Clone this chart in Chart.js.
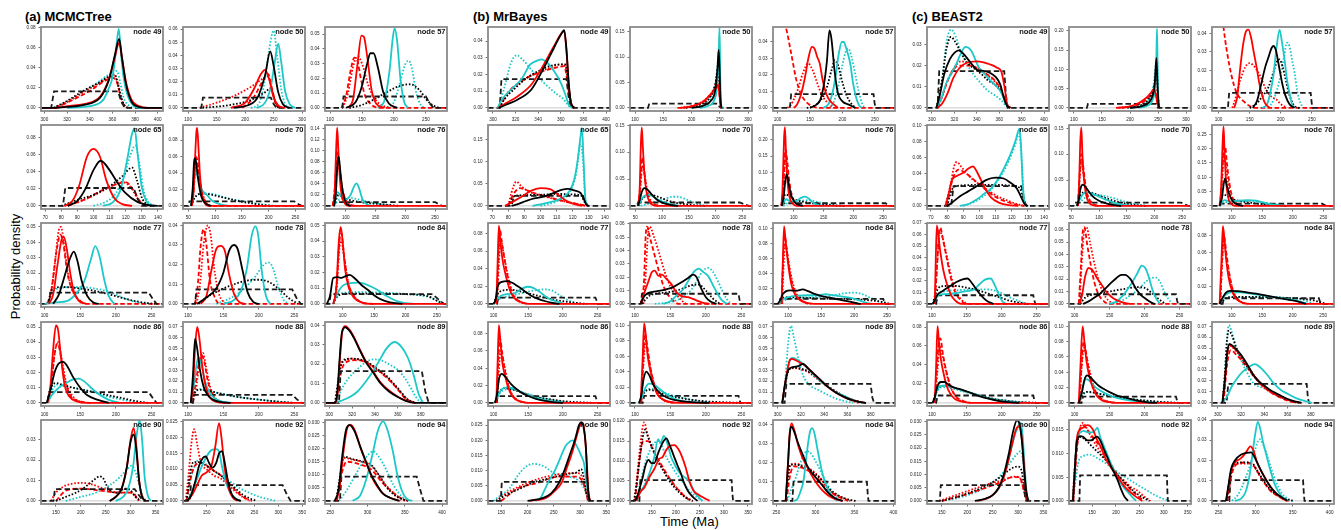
<!DOCTYPE html>
<html><head><meta charset="utf-8">
<script src="https://cdn.jsdelivr.net/npm/chart.js@4.4.1/dist/chart.umd.min.js"></script>
<style>
html,body{margin:0;padding:0;background:#fff;}
body{width:1341px;height:530px;position:relative;overflow:hidden;font-family:"Liberation Sans",Arial,sans-serif;}
canvas{position:absolute;}
.t{position:absolute;font-weight:bold;font-size:13px;line-height:13px;white-space:nowrap;color:#000;}
.lab{position:absolute;font-size:13px;line-height:13px;white-space:nowrap;color:#000;}
</style></head><body>
<div class="t" style="left:25px;top:9.5px">(a) MCMCTree</div>
<div class="t" style="left:473px;top:9.5px">(b) MrBayes</div>
<div class="t" style="left:912px;top:9.5px">(c) BEAST2</div>
<div class="lab" style="left:-45px;top:259.5px;width:120px;text-align:center;transform:rotate(-90deg);">Probability density</div>
<div class="lab" style="left:660px;top:514.5px">Time (Ma)</div>
<script>
// ---------- data ----------
const NODES = [49,50,57,65,70,76,77,78,84,86,88,89,90,92,94];
const X_TICKS = [[300,320,340,360,380,400],[100,150,200,250,300],[100,150,200,250],[70,80,90,100,110,120,130,140],[50,100,150,200,250],[100,150,200,250],[100,150,200,250],[100,150,200,250],[100,150,200,250],[100,150,200,250],[100,150,200,250],[300,320,340,360,380],[150,200,250,300,350],[150,200,250,300,350],[250,300,350,400]];
const X_RANGE_A = [[297,404.7],[91,305],[92,283],[67.4,143.2],[40,268],[65,270],[95,266],[93,265],[72,266],[95,266],[93,265],[296.3,403],[120,365],[100.5,356],[243,406.6]];
const X_RANGE_B = [[295.6,403.5],[91,307],[93,281],[67.4,143.2],[40,268],[65,270],[92,268],[93,265],[77,262],[92,268],[93,265],[296,401],[124.7,357],[104.4,358.4],[245.7,402]];
const X_RANGE_C = [[295.6,404.4],[91.2,308.8],[89.4,285.5],[67.6,143],[45.8,266],[67.6,267.3],[92.9,267.5],[92,266.5],[67.5,267.8],[92.9,267.5],[92,266.5],[295,400],[120.8,361],[101.7,356.9],[241.1,405.8]];
const Y_TOP_A = [0.081,0.0617,0.0548,0.095,0.0985,0.147,0.0526,0.0412,0.0515,0.0533,0.0746,0.0417,0.0396,0.0255,0.031];
const Y_TOP_B = [0.0484,0.159,0.0491,0.1827,0.1506,0.2434,0.092,0.0607,0.1075,0.0935,0.1045,0.0746,0.0267,0.0203,0.0423];
const Y_TOP_C = [0.0382,0.2104,0.0434,0.1004,0.1565,0.2829,0.0701,0.0654,0.0948,0.0853,0.1056,0.0739,0.0306,0.0171,0.04];
const Y_STEP_A = [0.02,0.01,0.01,0.02,0.02,0.02,0.01,0.01,0.01,0.01,0.01,0.01,0.01,0.005,0.005];
const Y_STEP_B = [0.01,0.05,0.01,0.05,0.05,0.05,0.02,0.01,0.02,0.02,0.02,0.01,0.005,0.005,0.01];
const Y_STEP_C = [0.01,0.05,0.01,0.02,0.05,0.05,0.01,0.01,0.02,0.02,0.02,0.01,0.005,0.005,0.01];

// curves: flat [x,y,x,y,...]; rs/rd/ro red solid/dashed/dotted, cs/co cyan, ks/ko black, kd prior
const a49 = {
 kd:[297,0,306,0,308.5,0.0165,365,0.0165,368,0.006,371,0,404.7,0],
 co:[309,0,320,0.006,335,0.0165,349,0.027,356,0.033,364,0.037,367,0.025,370,0.01,374,0.003,378,0],
 ro:[309,0,320,0.006,335,0.016,349,0.025,356,0.03,362,0.032,365,0.022,368.5,0.007,372,0.001,376,0],
 rd:[310,0,325,0.008,340,0.017,352,0.026,360,0.03,364,0.026,368,0.008,372,0],
 ko:[308,0,320,0.007,335,0.0175,349,0.0258,356,0.031,362,0.0336,365,0.024,368.5,0.008,372,0.001,376,0],
 cs:[320,0,335,0.001,345,0.003,352,0.008,357,0.02,360,0.03,363,0.055,365.6,0.079,368,0.05,370,0.03,373,0.014,378,0.003,385,0,404.7,0],
 rs:[297,0,310,0,322,0.002,336,0.004,349,0.011,355,0.023,358,0.033,362,0.05,366,0.065,368.5,0.05,372,0.026,377,0.008,383,0.002,392,0,404.7,0],
 ks:[297,0,308,0,320,0.001,335,0.003,349,0.01,355,0.022,358,0.032,362,0.052,366,0.069,368.5,0.05,372,0.024,377,0.006,383,0.001,390,0,404.7,0]};
const a50 = {
 kd:[91,0,123,0,126,0.0078,245,0.0078,250,0.003,255,0,305,0],
 co:[210,0,225,0.004,234,0.02,242,0.044,250,0.059,256,0.04,263,0.015,270,0.003,278,0],
 cs:[220,0,235,0.004,245,0.016,252,0.035,258,0.049,263,0.036,270,0.013,278,0.003,288,0],
 ks:[180,0,205,0.002,222,0.008,235,0.025,244,0.043,250,0.032,258,0.012,266,0.003,278,0],
 rs:[175,0,200,0.004,215,0.014,228,0.026,235,0.029,242,0.022,250,0.008,258,0.002,270,0],
 rd:[195,0,215,0.008,230,0.02,240,0.026,247,0.015,253,0.004,260,0],
 ro:[120,0,150,0.004,180,0.009,210,0.016,230,0.022,240,0.024,248,0.012,255,0.002,262,0],
 ko:[125,0,170,0.002,210,0.006,235,0.012,245,0.015,252,0.006,258,0]};
const a57 = {
 kd:[92,0,119,0,121,0.0077,250,0.0077,256,0.003,262,0,283,0],
 rd:[118,0,125,0.008,132,0.025,138,0.034,142,0.033,148,0.02,155,0.008,165,0.002,180,0,283,0],
 ro:[120,0,128,0.01,136,0.028,143,0.035,150,0.03,160,0.015,170,0.006,185,0.001,195,0],
 rs:[128,0,136,0.006,143,0.03,149,0.049,153,0.048,158,0.035,165,0.012,172,0.003,185,0],
 ks:[125,0,140,0.004,150,0.015,158,0.03,163,0.037,168,0.037,175,0.027,183,0.011,192,0.003,205,0],
 cs:[175,0,185,0.005,193,0.025,198,0.047,201,0.054,205,0.045,210,0.02,216,0.004,222,0],
 co:[190,0,200,0.004,210,0.018,218,0.03,223,0.032,228,0.027,235,0.01,242,0.002,250,0],
 ko:[130,0,150,0.002,170,0.006,190,0.011,210,0.015,225,0.016,240,0.012,250,0.006,260,0.002,270,0]};
const a65 = {
 kd:[67.4,0,81,0,82.5,0.021,125,0.021,127.5,0.008,130,0,143.2,0],
 rs:[82,0,87,0.006,91,0.023,96,0.058,100,0.067,104,0.058,108,0.03,113,0.009,118,0.002,124,0],
 ks:[84,0,90,0.006,95,0.02,100,0.042,104.5,0.053,110,0.042,115,0.027,120,0.015,127,0.005,134,0.001,140,0],
 cs:[106,0,112,0.004,117,0.02,121,0.055,124,0.085,125.5,0.091,127.5,0.06,130,0.022,133,0.005,137,0],
 co:[100,0,108,0.005,114,0.015,119,0.035,123,0.06,126,0.071,128.5,0.05,131,0.02,134,0.005,138,0],
 ko:[80,0,90,0.007,100,0.013,110,0.023,118,0.035,124,0.045,127,0.03,130,0.01,133,0.002,136,0],
 ro:[82,0,90,0.004,100,0.012,110,0.022,118,0.028,123,0.022,127,0.01,130,0.003,134,0],
 rd:[84,0,95,0.008,105,0.018,115,0.026,120,0.028,125,0.018,129,0.005,133,0]};
const a70 = {
 kd:[40,0,50,0,52,0.0055,248,0.0055,256,0.002,262,0,268,0],
 rs:[56,0,59,0.01,62,0.05,65,0.09,66.5,0.095,69,0.07,72,0.035,76,0.012,81,0.003,90,0,268,0],
 rd:[56,0,60,0.02,64,0.06,67,0.055,72,0.03,78,0.01,85,0.002,95,0,268,0],
 ro:[56,0,60,0.02,64,0.05,67,0.05,72,0.028,80,0.008,90,0],
 ks:[55,0,58,0.02,61,0.055,63,0.058,66,0.045,70,0.025,75,0.01,82,0.003,92,0],
 cs:[55,0,58,0.015,62,0.04,64,0.042,68,0.033,75,0.02,85,0.013,95,0.006,110,0.002,125,0],
 co:[55,0,62,0.01,75,0.015,90,0.015,110,0.012,130,0.008,150,0.006,175,0.003,200,0.001,215,0],
 ko:[55,0,62,0.01,75,0.015,90,0.014,110,0.011,130,0.008,150,0.005,170,0.003,190,0.001,205,0]};
const a76 = {
 kd:[65,0,80,0,82,0.007,250,0.007,256,0.003,262,0,270,0],
 rs:[78,0,81,0.02,84,0.11,85.5,0.142,87.5,0.1,90,0.05,93,0.02,98,0.005,105,0,270,0],
 rd:[78,0,82,0.04,85,0.1,88,0.085,92,0.045,98,0.015,105,0.004,115,0],
 ro:[79,0,83,0.04,86,0.09,89,0.07,94,0.03,100,0.01,110,0],
 ks:[80,0,83,0.02,86,0.075,88,0.09,91,0.06,95,0.025,100,0.006,108,0],
 cs:[80,0,86,0.025,92,0.018,100,0.012,108,0.02,114,0.036,118,0.041,122,0.033,128,0.012,135,0.003,145,0],
 co:[80,0,90,0.012,105,0.015,120,0.012,140,0.007,160,0.003,180,0],
 ko:[80,0,88,0.02,95,0.015,110,0.01,130,0.006,160,0.003,190,0]};
const a77 = {
 kd:[95,0,106,0,108,0.0073,246,0.0073,252,0.003,257,0,266,0],
 ro:[103,0,108,0.005,114,0.025,120,0.048,123,0.05,127,0.04,132,0.022,138,0.01,145,0.004,155,0],
 rd:[104,0,110,0.01,117,0.035,122,0.045,126,0.04,132,0.02,140,0.008,150,0.002,160,0,266,0],
 rs:[106,0,112,0.006,118,0.025,124,0.042,127,0.0435,131,0.036,136,0.02,141,0.008,148,0.002,158,0],
 ks:[112,0,120,0.006,128,0.018,136,0.03,141,0.034,146,0.028,152,0.015,160,0.005,168,0.001,176,0],
 cs:[100,0,115,0.001,132,0.002,145,0.007,155,0.014,165,0.029,171,0.0375,177,0.031,184,0.015,190,0.005,198,0],
 co:[105,0,112,0.008,125,0.0105,150,0.011,170,0.01,190,0.008,210,0.004,230,0.001,245,0],
 ko:[105,0,110,0.009,125,0.011,150,0.01,175,0.008,200,0.005,225,0.002,245,0.0005,255,0]};
const a78 = {
 kd:[93,0,110,0,112,0.0074,247,0.0074,253,0.003,259,0,265,0],
 rd:[110,0,114,0.01,118,0.03,122,0.038,126,0.03,131,0.012,137,0.004,145,0,265,0],
 ro:[112,0,117,0.01,122,0.03,128,0.04,132,0.035,137,0.018,143,0.006,150,0.001,158,0],
 rs:[118,0,126,0.004,133,0.017,140,0.028,146,0.0295,152,0.027,158,0.015,165,0.005,172,0.001,180,0],
 ks:[113,0,125,0.003,140,0.008,150,0.016,158,0.027,165,0.03,170,0.028,177,0.017,184,0.006,192,0.001,200,0],
 cs:[150,0,165,0.002,175,0.007,183,0.018,190,0.035,195,0.0395,199,0.035,204,0.017,210,0.004,216,0],
 co:[140,0,160,0.003,180,0.008,195,0.014,207,0.02,214,0.021,220,0.018,227,0.009,235,0.002,242,0],
 ko:[115,0,125,0.003,145,0.007,165,0.01,185,0.012,200,0.0123,215,0.011,230,0.007,242,0.003,255,0]};
const a84 = {
 kd:[72,0,79,0,81,0.0062,243,0.0062,252,0.003,261,0,266,0],
 rs:[85,0,90,0.01,94,0.04,97,0.049,100,0.04,104,0.022,110,0.01,118,0.004,130,0.001,145,0,266,0],
 rd:[86,0,91,0.015,95,0.04,98,0.045,102,0.032,108,0.015,118,0.005,130,0.001,150,0],
 ro:[86,0,91,0.012,95,0.036,98,0.04,103,0.028,110,0.012,120,0.004,135,0],
 ks:[75,0,80,0.005,85,0.0165,92,0.017,98,0.0165,104,0.0175,111,0.0185,120,0.016,130,0.012,140,0.009,150,0.0055,160,0.003,175,0.001,195,0],
 cs:[85,0,92,0.007,100,0.0115,110,0.013,125,0.0135,140,0.012,155,0.009,170,0.005,185,0.002,200,0.0005,215,0],
 co:[85,0,92,0.005,100,0.007,130,0.0075,170,0.007,210,0.006,240,0.004,255,0.001,265,0],
 ko:[85,0,92,0.005,110,0.0065,150,0.0065,200,0.0062,235,0.005,250,0.002,262,0]};
const a86 = {
 kd:[95,0,104,0,106,0.0071,246,0.0071,252,0.003,257,0,266,0],
 rs:[104,0,108,0.01,112,0.035,116,0.051,119,0.048,123,0.03,128,0.012,135,0.004,145,0.001,160,0,266,0],
 rd:[105,0,110,0.015,114,0.032,118,0.039,122,0.033,128,0.016,136,0.005,150,0.001,165,0],
 ro:[105,0,110,0.015,115,0.035,119,0.04,123,0.032,130,0.014,140,0.004,155,0],
 ks:[103,0,108,0.008,114,0.02,120,0.026,126,0.027,132,0.024,140,0.017,150,0.01,160,0.005,175,0.002,190,0],
 cs:[104,0,110,0.005,120,0.01,130,0.013,140,0.0155,148,0.016,156,0.014,165,0.01,175,0.006,190,0.002,205,0],
 co:[104,0,110,0.008,118,0.012,130,0.011,150,0.009,170,0.007,190,0.004,210,0.002,230,0],
 ko:[104,0,110,0.011,116,0.013,130,0.011,150,0.009,170,0.007,190,0.005,210,0.003,230,0.001,245,0]};
const a88 = {
 kd:[93,0,107,0,109,0.0074,247,0.0074,254,0.003,261,0,265,0],
 rs:[104,0,107,0.015,110,0.05,113,0.07,116,0.06,120,0.035,125,0.015,131,0.005,140,0.001,150,0,265,0],
 rd:[105,0,110,0.015,115,0.035,119,0.044,123,0.038,128,0.02,135,0.007,145,0.001,160,0],
 ro:[106,0,111,0.012,116,0.035,121,0.046,125,0.035,130,0.018,137,0.006,150,0],
 ks:[104,0,107,0.025,110,0.059,113,0.05,117,0.03,122,0.015,128,0.007,135,0.003,145,0.001,160,0],
 cs:[104,0,108,0.015,112,0.035,115,0.042,119,0.035,124,0.02,130,0.01,138,0.004,150,0.001,165,0],
 co:[105,0,110,0.01,117,0.013,130,0.011,150,0.008,175,0.005,200,0.003,230,0.001,250,0],
 ko:[105,0,110,0.01,117,0.012,130,0.011,150,0.008,175,0.005,200,0.003,230,0.001,250,0]};
const a89 = {
 kd:[296.3,0,308.5,0,310,0.0164,381,0.0164,384,0.006,387,0,403,0],
 ks:[296.3,0,305,0,307,0.005,309,0.022,311,0.036,314,0.039,318,0.037,322,0.033,326,0.028,332,0.021,338,0.016,345,0.01,352,0.006,360,0.003,367,0.001,375,0,403,0],
 rs:[296.3,0,305.5,0,307.5,0.006,309.5,0.024,311.5,0.037,314,0.0395,318,0.0375,322,0.0335,326,0.0285,332,0.0215,338,0.0165,345,0.0105,352,0.0065,360,0.0032,367,0.0012,375,0],
 ro:[305,0,308,0.009,310,0.018,314,0.022,320,0.0228,328,0.022,335,0.02,342,0.017,350,0.0135,357,0.009,363,0.005,368,0.002,375,0],
 ko:[305,0,307.5,0.01,310,0.019,314,0.0225,320,0.0228,328,0.0222,335,0.0205,342,0.0175,350,0.014,357,0.0095,363,0.0055,368,0.002,376,0],
 rd:[306,0,309,0.012,313,0.02,322,0.022,332,0.021,342,0.017,352,0.012,360,0.007,367,0.002,374,0],
 cs:[305,0,310,0.001,318,0.003,325,0.006,332,0.011,338,0.016,344,0.022,350,0.028,357,0.0314,363,0.029,369,0.023,374,0.014,378,0.005,382,0],
 co:[306,0,310,0.006,316,0.012,324,0.017,332,0.021,338,0.0224,345,0.022,352,0.02,360,0.017,367,0.012,372,0.007,377,0.002,381,0]};
const a90 = {
 kd:[120,0,145,0,148,0.0058,308,0.0058,316,0.003,325,0,365,0],
 rs:[258,0,270,0.002,282,0.006,292,0.016,300,0.03,306,0.0357,311,0.028,317,0.01,323,0.002,330,0],
 ks:[258,0,270,0.002,282,0.006,292,0.016,300,0.029,306,0.0325,311,0.026,317,0.01,323,0.002,330,0],
 cs:[270,0,285,0.002,295,0.006,305,0.017,312,0.032,318,0.0395,323,0.03,328,0.012,334,0.003,340,0],
 co:[170,0,200,0.002,230,0.004,260,0.008,280,0.012,295,0.016,302,0.0172,310,0.014,318,0.007,325,0.002,332,0],
 ko:[150,0,170,0.002,190,0.004,210,0.007,225,0.01,238,0.012,245,0.011,255,0.006,270,0.004,290,0.006,300,0.005,310,0.002,320,0],
 ro:[140,0,150,0.004,165,0.007,185,0.0085,200,0.0088,215,0.0085,235,0.007,255,0.005,280,0.004,300,0.004,310,0.002,318,0],
 rd:[150,0,170,0.005,200,0.006,240,0.005,280,0.004,305,0.004,315,0]};
const a92 = {
 kd:[100.5,0,115,0,117,0.005,309,0.005,318,0.002,326,0,356,0],
 rs:[110,0,120,0.002,130,0.005,140,0.008,150,0.009,160,0.011,168,0.017,176,0.0245,181,0.02,188,0.01,196,0.004,205,0.001,215,0],
 ro:[106,0,112,0.008,118,0.018,124,0.0226,130,0.018,138,0.012,150,0.01,165,0.008,180,0.007,195,0.005,210,0.003,228,0.001,245,0],
 rd:[108,0,115,0.006,125,0.011,140,0.012,160,0.01,180,0.008,200,0.005,220,0.002,240,0],
 ks:[110,0,118,0.002,126,0.006,134,0.011,142,0.0135,148,0.014,155,0.012,162,0.0105,170,0.012,176,0.015,182,0.0157,188,0.012,195,0.006,203,0.002,212,0.0005,222,0],
 cs:[110,0,120,0.003,130,0.007,140,0.011,150,0.014,160,0.016,170,0.0163,176,0.0155,182,0.011,190,0.006,198,0.003,208,0.001,220,0],
 co:[108,0,115,0.006,125,0.011,132,0.0128,145,0.012,160,0.01,180,0.008,200,0.006,220,0.004,240,0.0025,260,0.0013,280,0.0005,295,0],
 ko:[108,0,115,0.008,122,0.0122,135,0.0122,150,0.011,165,0.0095,180,0.008,195,0.006,210,0.004,225,0.002,240,0.0008,255,0]};
const a94 = {
 kd:[243,0,263,0,265,0.0093,366,0.0093,371,0.004,375,0,406.6,0],
 ks:[256,0,261,0.004,266,0.017,271,0.027,276,0.029,282,0.027,290,0.021,298,0.015,305,0.01,312,0.0065,320,0.003,330,0.0012,342,0],
 rs:[257,0,262,0.004,267,0.017,272,0.027,277,0.0292,283,0.027,291,0.02,299,0.014,306,0.009,313,0.0055,322,0.0025,332,0.001,344,0],
 ro:[258,0,263,0.008,268,0.0165,280,0.0158,292,0.015,305,0.0135,315,0.01,325,0.006,335,0.003,345,0.001,355,0],
 ko:[258,0,263,0.009,268,0.017,280,0.016,292,0.0152,305,0.0138,315,0.01,325,0.0055,335,0.0025,345,0.0008,355,0],
 rd:[259,0,265,0.01,272,0.015,290,0.014,305,0.012,320,0.007,335,0.003,350,0],
 cs:[280,0,290,0.002,298,0.008,306,0.017,314,0.027,321,0.0305,327,0.027,334,0.019,340,0.01,346,0.004,352,0.001,360,0],
 co:[262,0,272,0.004,282,0.009,292,0.014,302,0.018,308,0.019,315,0.017,325,0.012,335,0.006,345,0.002,355,0]};

const b49 = {
 kd:[295.6,0,306,0,307.5,0.0172,365,0.0172,367,0.006,369,0,403.5,0],
 ks:[305,0,312,0.002,322,0.005,334,0.011,345,0.024,354,0.036,361,0.045,363,0.0465,365,0.035,367,0.015,369,0.003,372,0],
 rs:[305,0,312,0.003,322,0.007,334,0.014,345,0.026,354,0.037,361,0.045,363,0.046,365,0.034,367,0.014,369,0.003,372,0],
 ro:[306,0,310,0.006,320,0.013,330,0.018,340,0.021,350,0.024,360,0.026,364,0.025,367,0.012,369,0.002,372,0],
 ko:[306,0,310,0.005,320,0.012,330,0.018,340,0.022,350,0.025,360,0.026,364,0.026,367,0.012,369,0.002,372,0],
 rd:[306,0,312,0.008,325,0.016,340,0.021,355,0.024,363,0.025,367,0.01,370,0],
 cs:[304,0,308,0.005,316,0.011,325,0.017,333,0.026,338,0.028,343,0.029,348,0.027,355,0.021,360,0.015,364,0.008,367,0.002,370,0],
 co:[305,0,310,0.012,316,0.027,321,0.0315,326,0.029,335,0.022,345,0.015,355,0.009,362,0.0055,366,0.002,369,0]};
const b50 = {
 kd:[91,0,123,0,125,0.0085,246,0.0085,249,0.003,252,0,307,0],
 cs:[215,0,230,0.004,240,0.015,245,0.04,248,0.1,249.5,0.158,251,0.05,252.5,0.005,255,0],
 ks:[200,0,220,0.004,235,0.015,242,0.035,246,0.08,248,0.114,249.5,0.08,251,0.02,253,0],
 rs:[175,0,200,0.003,220,0.012,232,0.025,242,0.037,247,0.045,250,0.02,252,0],
 ro:[180,0,205,0.005,225,0.017,238,0.035,245,0.055,248,0.062,250,0.03,252,0],
 rd:[185,0,210,0.006,228,0.018,240,0.035,246,0.05,249,0.03,252,0],
 ko:[190,0,215,0.006,232,0.02,242,0.045,247,0.08,249,0.05,252,0],
 co:[200,0,225,0.008,238,0.03,245,0.07,249,0.12,251,0.03,253,0]};
const b57 = {
 kd:[93,0,119,0,121,0.0083,248,0.0083,249.5,0.003,251,0,281,0],
 rd:[110,0.052,114,0.047,121.5,0.032,129,0.017,137,0.0077,147,0.0026,157,0.0005,165,0,281,0],
 ro:[115,0,121,0.002,126,0.006,132,0.012,139,0.021,147,0.027,155,0.022,162,0.014,168,0.008,175,0.004,186,0],
 rs:[125,0,130,0.002,136,0.008,142,0.018,148,0.031,153,0.037,157,0.036,161,0.031,165,0.027,169,0.018,173,0.011,178,0.006,184,0.003,193,0],
 ks:[150,0,160,0.002,166,0.005,171,0.013,176,0.028,180,0.047,183,0.042,188,0.022,193,0.009,200,0.004,210,0.002,220,0],
 ko:[145,0,155,0.001,165,0.004,174,0.01,184,0.024,188,0.029,193,0.026,201,0.014,207,0.007,213,0.003,220,0],
 cs:[170,0,178,0.002,184,0.008,189,0.018,194,0.032,199,0.04,202,0.04,206,0.036,212,0.027,216,0.016,220,0.008,225,0.002,230,0],
 co:[180,0,186,0.003,193,0.012,200,0.026,205,0.034,209,0.036,214,0.031,220,0.02,225,0.01,231,0.002,236,0]};
const b65 = {
 kd:[67.4,0,82,0,83.5,0.0227,126.5,0.0227,128,0.008,129.5,0,143.2,0],
 cs:[95,0,102,0.005,108,0.01,113,0.017,118,0.033,121,0.06,123,0.1,125,0.16,125.8,0.176,126.8,0.1,127.8,0.02,129,0],
 co:[100,0,110,0.01,118,0.03,122,0.07,125,0.14,126.5,0.1,128,0.01,130,0],
 rs:[78,0,82,0.008,88,0.02,94,0.034,100,0.04,106,0.038,110,0.028,115,0.014,120,0.005,126,0],
 ro:[80,0,82,0.03,85,0.055,88,0.045,93,0.032,100,0.024,108,0.016,115,0.01,122,0.005,128,0],
 rd:[80,0,83,0.025,87,0.04,95,0.03,105,0.02,115,0.01,125,0.003,129,0],
 ks:[82,0,86,0.004,91,0.011,96,0.017,102,0.021,108,0.029,113,0.036,117,0.0385,121,0.035,125,0.029,127,0.015,128.5,0.003,130,0],
 ko:[80,0,83,0.02,88,0.024,100,0.025,110,0.027,120,0.026,125,0.024,127.5,0.008,129,0]};
const b70 = {
 kd:[40,0,53,0,55,0.0063,245,0.0063,254,0.003,262,0,268,0],
 rs:[55,0,58,0.03,60.5,0.12,62,0.146,64,0.11,67,0.06,71,0.025,76,0.008,82,0.002,90,0,268,0],
 rd:[56,0,60,0.05,63,0.09,66,0.07,70,0.035,76,0.012,85,0.003,95,0],
 ro:[56,0,60,0.04,63,0.075,67,0.06,72,0.03,80,0.008,92,0],
 ks:[55,0,58,0.01,62,0.026,67,0.033,72,0.031,80,0.022,90,0.012,100,0.006,115,0.002,130,0],
 cs:[56,0,60,0.01,66,0.018,74,0.021,82,0.018,92,0.012,105,0.006,120,0.002,135,0],
 co:[60,0,75,0.004,90,0.008,105,0.013,120,0.017,130,0.017,145,0.012,160,0.006,175,0.002,190,0],
 ko:[56,0,62,0.012,70,0.018,80,0.02,95,0.016,110,0.01,125,0.006,145,0.003,165,0.001,180,0]};
const b76 = {
 kd:[65,0,78,0,80,0.008,254,0.008,258,0.003,262,0,270,0],
 rs:[79,0,81,0.05,83.5,0.2,85,0.237,87,0.15,89.5,0.07,93,0.025,98,0.007,105,0,270,0],
 rd:[80,0,83,0.08,86,0.17,88,0.15,92,0.08,97,0.03,104,0.008,115,0],
 ro:[80,0,83,0.06,86,0.15,89,0.11,93,0.05,100,0.015,110,0],
 ks:[80,0,83,0.03,86,0.08,88,0.095,91,0.07,95,0.035,100,0.015,106,0.005,115,0],
 cs:[80,0,87,0.02,95,0.013,105,0.016,112,0.024,119,0.028,125,0.022,132,0.01,140,0.003,150,0],
 co:[82,0,92,0.01,110,0.015,125,0.017,140,0.012,155,0.006,170,0.002,185,0],
 ko:[80,0,86,0.035,92,0.03,100,0.02,115,0.013,130,0.008,150,0.004,170,0.001,185,0]};
const b77 = {
 kd:[92,0,105,0,107,0.0072,247,0.0072,249,0.003,250.5,0,268,0],
 rs:[104,0,106,0.05,107.7,0.089,110,0.07,113,0.05,116,0.038,120,0.025,125,0.013,132,0.005,140,0.002,150,0,268,0],
 rd:[105,0,107,0.05,109,0.085,112,0.07,117,0.045,123,0.022,130,0.008,140,0.002,150,0],
 ro:[105,0,108,0.05,110,0.075,114,0.06,120,0.035,127,0.014,135,0.004,145,0],
 ks:[100,0,103,0.005,106,0.02,112,0.025,120,0.026,127,0.024,135,0.02,145,0.0145,155,0.009,165,0.0055,175,0.003,185,0.001,195,0],
 cs:[100,0,104,0.004,110,0.009,120,0.011,130,0.012,140,0.017,149,0.0195,158,0.018,166,0.014,174,0.009,182,0.005,190,0.003,202,0],
 co:[100,0,110,0.006,130,0.01,150,0.014,165,0.016,175,0.0166,185,0.015,195,0.01,205,0.005,215,0.002,225,0],
 ko:[100,0,105,0.01,112,0.015,125,0.016,140,0.014,155,0.011,170,0.008,185,0.005,200,0.003,220,0.001,235,0]};
const b78 = {
 kd:[93,0,108,0,110,0.0076,246,0.0076,247.5,0.003,249,0,265,0],
 rd:[110,0,113,0.02,115,0.05,117,0.058,121,0.05,126,0.04,133,0.026,142,0.011,152,0.0035,162,0,265,0],
 ro:[112,0,115,0.02,118,0.05,121,0.058,127,0.05,133,0.04,142,0.024,150,0.013,157,0.008,165,0.003,172,0],
 rs:[108,0,113,0.008,119,0.017,124,0.024,128,0.025,133,0.021,138,0.022,144,0.019,151,0.015,158,0.009,165,0.006,175,0.005,185,0.003,195,0.001,205,0],
 ks:[108,0,112,0.005,118,0.008,125,0.009,133,0.0097,145,0.011,155,0.013,165,0.016,175,0.0195,182,0.022,187,0.02,193,0.012,200,0.005,206,0.002,215,0],
 cs:[140,0,150,0.002,160,0.007,168,0.011,176,0.018,183,0.024,190,0.0265,196,0.024,203,0.021,210,0.014,216,0.008,222,0.003,230,0],
 co:[128,0,145,0.001,160,0.003,170,0.006,180,0.011,188,0.018,196,0.025,203,0.027,210,0.024,217,0.017,223,0.01,229,0.004,235,0],
 ko:[110,0,120,0.006,135,0.008,150,0.009,165,0.011,180,0.014,190,0.0145,200,0.01,210,0.004,220,0]};
const b84 = {
 kd:[77,0,86,0,88,0.0066,244,0.0066,246,0.003,248,0,262,0],
 rs:[90,0,92,0.06,93.8,0.103,96,0.085,99,0.06,102,0.04,106,0.022,112,0.01,120,0.004,130,0.001,140,0,262,0],
 rd:[90,0,92.5,0.06,95,0.09,98,0.07,103,0.04,109,0.018,118,0.006,130,0],
 ro:[91,0,93,0.05,96,0.08,100,0.06,105,0.035,112,0.015,122,0.004,135,0],
 ks:[84,0,88,0.005,92,0.013,97,0.017,103,0.018,112,0.0175,122,0.0193,130,0.017,141,0.013,152,0.01,162,0.0085,175,0.006,187,0.004,200,0.0015,210,0],
 cs:[86,0,92,0.006,100,0.009,115,0.011,130,0.0115,145,0.0115,157,0.013,165,0.012,180,0.01,195,0.008,210,0.004,220,0.001,228,0],
 co:[86,0,95,0.005,115,0.008,140,0.009,165,0.011,185,0.014,200,0.015,212,0.013,225,0.008,238,0.003,250,0],
 ko:[86,0,92,0.008,105,0.009,130,0.008,160,0.007,190,0.0065,220,0.005,240,0.003,255,0]};
const b86 = {
 kd:[92,0,104,0,106,0.0077,247,0.0077,249,0.003,250.5,0,268,0],
 rs:[104,0,106,0.05,107.7,0.09,110,0.07,113,0.045,117,0.03,121,0.018,126,0.009,132,0.004,140,0.0015,150,0,268,0],
 rd:[105,0,107,0.05,109,0.075,113,0.055,118,0.03,125,0.012,133,0.004,145,0],
 ro:[105,0,108,0.04,110,0.06,115,0.045,121,0.022,128,0.008,138,0.002,150,0],
 ks:[102,0,105,0.01,108,0.028,112,0.0335,117,0.03,125,0.022,133,0.016,142,0.011,150,0.008,160,0.005,172,0.0027,185,0.001,200,0],
 cs:[102,0,106,0.008,112,0.016,120,0.018,128,0.017,136,0.014,145,0.01,155,0.007,165,0.005,175,0.003,190,0.001,205,0],
 co:[102,0,108,0.01,115,0.015,125,0.016,135,0.014,150,0.01,165,0.007,180,0.004,195,0.002,210,0],
 ko:[102,0,108,0.012,115,0.017,125,0.016,140,0.012,155,0.008,175,0.005,200,0.002,230,0.0005,245,0]};
const b88 = {
 kd:[93,0,111,0,113,0.009,246,0.009,247.5,0.003,249,0,265,0],
 rs:[108,0,110.5,0.05,113,0.103,115.5,0.085,118,0.06,122,0.04,126,0.025,131,0.012,138,0.005,148,0.0015,160,0,265,0],
 rd:[109,0,111.5,0.05,114,0.09,117,0.075,121,0.05,126,0.028,133,0.01,142,0.003,155,0],
 ro:[109,0,112,0.05,115,0.08,119,0.06,124,0.035,131,0.015,140,0.004,152,0],
 ks:[106,0,109,0.01,112,0.03,116,0.0405,120,0.036,125,0.025,130,0.018,136,0.012,145,0.007,155,0.004,168,0.002,185,0.0007,205,0],
 cs:[106,0,110,0.008,115,0.02,120,0.025,126,0.024,132,0.02,140,0.014,150,0.008,160,0.004,170,0.002,185,0],
 co:[106,0,112,0.012,120,0.018,130,0.018,140,0.014,155,0.009,170,0.006,185,0.003,200,0.001,215,0],
 ko:[106,0,112,0.012,120,0.017,130,0.015,145,0.01,160,0.007,180,0.004,200,0.002,230,0.0007,250,0]};
const b89 = {
 kd:[296,0,306,0,307.5,0.0176,380,0.0176,381.5,0.005,383,0,401,0],
 co:[304,0,306.5,0.02,309,0.055,311.5,0.071,314,0.06,318,0.04,322,0.025,328,0.016,335,0.012,342,0.008,350,0.004,358,0.0015,365,0],
 cs:[304,0,307,0.02,310,0.038,313,0.0414,318,0.039,324,0.034,330,0.027,337,0.02,343,0.015,350,0.01,357,0.0065,364,0.003,370,0.001,376,0],
 rs:[304,0,307,0.022,310,0.038,312,0.0405,318,0.038,324,0.034,330,0.028,337,0.021,343,0.015,350,0.0095,357,0.0055,364,0.0025,370,0.001,376,0],
 ks:[304,0,306,0.015,309,0.03,313,0.033,318,0.034,322,0.036,326,0.032,331,0.027,337,0.021,343,0.015,350,0.0095,357,0.0055,364,0.0025,370,0.001,376,0],
 ro:[304,0,307,0.02,310,0.031,314,0.032,320,0.031,327,0.028,333,0.023,340,0.017,347,0.012,355,0.007,362,0.003,370,0],
 ko:[304,0,307,0.02,310,0.031,315,0.0325,322,0.031,328,0.028,334,0.023,341,0.017,348,0.012,355,0.0075,362,0.004,370,0.001,376,0]};
const b90 = {
 kd:[124.7,0,149,0,151,0.0063,314,0.0063,315.5,0.002,317,0,357,0],
 ks:[200,0,230,0.001,245,0.0025,260,0.006,270,0.01,280,0.015,290,0.02,298,0.025,302,0.026,307,0.024,311,0.018,314,0.007,317,0.001,320,0],
 rs:[205,0,235,0.001,250,0.003,265,0.006,275,0.011,285,0.016,293,0.021,300,0.025,305,0.0258,309,0.022,313,0.012,316,0.003,319,0],
 cs:[215,0,225,0.001,232,0.0035,242,0.007,252,0.01,262,0.014,272,0.018,280,0.0195,286,0.02,294,0.018,302,0.015,308,0.012,313,0.005,317,0.001,320,0],
 co:[135,0,150,0.002,165,0.004,180,0.008,195,0.011,210,0.0122,222,0.012,235,0.011,250,0.0092,265,0.0085,280,0.008,295,0.007,305,0.005,313,0.002,320,0],
 ro:[140,0,155,0.002,175,0.004,200,0.006,225,0.0075,250,0.0085,270,0.009,290,0.0092,300,0.009,307,0.006,313,0.002,318,0],
 ko:[140,0,160,0.002,185,0.004,210,0.006,235,0.0072,260,0.0082,280,0.009,295,0.0095,302,0.0105,308,0.007,313,0.002,318,0],
 rd:[150,0,180,0.004,220,0.006,260,0.008,295,0.008,308,0.005,315,0]};
const b92 = {
 kd:[104.4,0,124,0,126,0.0052,316,0.0052,317.5,0.002,319,0,358.4,0],
 ro:[113,0,118,0.005,124,0.012,130,0.018,134,0.0197,140,0.017,150,0.0135,160,0.011,170,0.0085,182,0.006,195,0.004,206,0.0027,220,0.001,235,0],
 ko:[113,0,118,0.004,125,0.011,131,0.016,136,0.0179,142,0.016,152,0.013,162,0.01,172,0.008,184,0.0055,196,0.0035,208,0.002,222,0.0007,235,0],
 ks:[115,0,119,0.001,124,0.003,130,0.0055,137,0.009,143,0.0103,149,0.0095,155,0.0095,163,0.012,172,0.0145,180,0.0157,187,0.014,195,0.0115,203,0.009,210,0.007,217,0.0045,225,0.0025,235,0.001,245,0],
 cs:[118,0,125,0.002,135,0.004,145,0.007,155,0.011,163,0.0155,168,0.0145,175,0.0163,182,0.0145,190,0.011,198,0.009,206,0.0073,215,0.0062,227,0.005,240,0.002,255,0],
 rs:[118,0,125,0.002,135,0.0035,145,0.006,155,0.008,165,0.0105,172,0.011,180,0.0128,188,0.0138,197,0.014,205,0.013,213,0.011,220,0.0085,228,0.005,237,0.0025,248,0.0015,258,0.0008,270,0],
 co:[118,0,125,0.004,135,0.009,145,0.0125,155,0.0145,163,0.015,170,0.014,180,0.011,190,0.009,200,0.007,212,0.005,225,0.003,240,0.0012,255,0],
 rd:[115,0,122,0.008,132,0.015,142,0.015,155,0.012,170,0.009,185,0.006,200,0.0035,215,0.0015,230,0]};
const b94 = {
 kd:[245.7,0,270.5,0,272,0.01,366,0.01,367,0.004,368,0,402,0],
 rs:[262,0,265,0.02,267,0.035,269.5,0.0405,273,0.037,278,0.029,283,0.023,288,0.019,295,0.0135,302,0.009,309,0.0055,316,0.003,325,0.001,335,0],
 ks:[262,0,265,0.02,267,0.034,269,0.039,273,0.036,278,0.03,284,0.024,290,0.018,296,0.0143,303,0.011,310,0.0075,317,0.004,325,0.0015,335,0],
 cs:[272,0,277,0.001,281,0.005,285,0.011,289,0.025,293,0.036,296,0.038,299,0.035,302,0.0285,306,0.02,309,0.0145,313,0.009,317,0.0055,322,0.002,328,0],
 co:[264,0,268,0.005,274,0.011,280,0.019,285,0.024,289,0.026,294,0.025,300,0.021,305,0.017,311,0.012,317,0.0075,323,0.004,330,0],
 ro:[262,0,265,0.012,268,0.019,275,0.0195,283,0.0185,292,0.017,300,0.0145,308,0.011,316,0.0065,325,0.0035,335,0.0015,345,0],
 ko:[262,0,265,0.012,268,0.019,275,0.019,283,0.018,292,0.0165,300,0.014,308,0.011,316,0.007,325,0.004,335,0.0018,345,0.0005,352,0],
 rd:[263,0,267,0.012,272,0.018,285,0.017,300,0.013,315,0.006,330,0.002,342,0]};

const c49 = {
 kd:[295.6,0,305,0,306.5,0.0174,364.5,0.0174,366,0.006,367.5,0,404.4,0],
 co:[304,0,306,0.005,309,0.013,313,0.031,317,0.037,321,0.034,325,0.0275,331,0.021,337,0.0158,343,0.012,349,0.0085,356,0.006,362,0.0035,366,0.001,369,0],
 ko:[304,0,306,0.005,309,0.013,313,0.028,317,0.0335,321,0.031,326,0.026,332,0.021,338,0.0185,344,0.016,350,0.013,357,0.0105,363,0.0065,366,0.002,369,0],
 ks:[304,0,307,0.006,311,0.016,316,0.023,320,0.026,324,0.0272,329,0.025,335,0.021,340,0.018,346,0.0175,352,0.0165,357,0.0145,361,0.011,364,0.005,367,0.001,370,0],
 cs:[304,0,308,0.004,313,0.012,318,0.017,322,0.021,326,0.026,330,0.0288,335,0.027,342,0.019,347,0.016,352,0.013,358,0.01,362,0.007,366,0.002,369,0],
 rs:[305,0,309,0.002,314,0.007,319,0.014,324,0.0185,331,0.0213,340,0.022,346,0.0215,352,0.0205,358,0.019,362,0.017,365,0.009,367,0.002,370,0],
 ro:[305,0,309,0.005,314,0.013,320,0.019,326,0.022,332,0.021,340,0.019,348,0.016,356,0.0125,362,0.008,366,0.002,369,0],
 rd:[305,0,310,0.007,316,0.015,324,0.02,334,0.02,345,0.017,356,0.013,363,0.007,367,0.001,370,0]};
const c50 = {
 kd:[91.2,0,123,0,125,0.0104,247,0.0104,248.5,0.004,250,0,308.8,0],
 cs:[215,0,230,0.005,240,0.02,245,0.06,247,0.13,248.2,0.206,249.5,0.08,251,0.01,253,0],
 ks:[200,0,220,0.004,233,0.013,240,0.03,244,0.06,247,0.13,249,0.06,251,0.01,253,0],
 rs:[175,0,200,0.004,215,0.012,228,0.025,236,0.037,243,0.048,246,0.035,249,0.01,252,0],
 ro:[180,0,205,0.005,222,0.015,233,0.028,240,0.04,245,0.05,248,0.03,251,0],
 rd:[185,0,210,0.006,228,0.02,238,0.035,244,0.045,248,0.025,251,0],
 ko:[195,0,218,0.006,232,0.02,240,0.04,245,0.07,248,0.09,250,0.03,252,0],
 co:[200,0,222,0.007,235,0.025,242,0.06,246,0.11,248.5,0.12,250,0.04,252,0]};
const c57 = {
 kd:[89.4,0,115,0,117,0.0081,248,0.0081,249.5,0.003,251,0,285.5,0],
 rd:[104,0.055,108,0.043,113,0.031,121,0.017,129,0.0081,140,0.0036,150,0.001,160,0,285.5,0],
 rs:[125,0,130,0.006,134,0.019,139,0.033,144,0.041,148,0.042,152,0.038,157,0.029,161,0.022,165,0.014,169,0.008,174,0.003,182,0],
 ro:[122,0,128,0.006,135,0.015,143,0.022,150,0.024,158,0.022,167,0.017,176,0.01,185,0.006,193,0.0045,200,0.002,210,0],
 ks:[155,0,162,0.004,169,0.0135,175,0.022,180,0.027,185,0.032,188,0.0332,192,0.031,198,0.0206,203,0.012,207,0.007,214,0.002,222,0],
 ko:[150,0,160,0.002,170,0.006,180,0.011,188,0.019,194,0.025,198,0.026,203,0.022,208,0.015,212,0.009,217,0.004,222,0.001,230,0],
 cs:[170,0,178,0.002,183,0.008,188,0.017,193,0.032,198,0.0418,202,0.035,206,0.026,210,0.015,214,0.008,218,0.002,223,0],
 co:[180,0,188,0.004,195,0.011,200,0.018,205,0.027,210,0.035,214,0.033,218,0.026,222,0.019,226,0.01,230,0.004,236,0]};
const c65 = {
 kd:[67.6,0,82.5,0,84,0.0245,126,0.0245,127.5,0.008,129,0,143,0],
 cs:[88,0,93,0.002,98,0.0075,103,0.015,107,0.021,112,0.035,116,0.05,119,0.063,122.5,0.082,124.7,0.096,125.7,0.075,126.7,0.03,127.8,0.004,129,0],
 co:[90,0,98,0.006,106,0.018,112,0.033,118,0.055,122,0.075,124.5,0.09,126,0.06,127.5,0.01,129,0],
 rs:[79,0,81,0.015,83,0.032,86,0.037,90,0.041,93,0.046,96,0.049,98,0.044,101,0.032,104,0.02,107,0.011,112,0.004,118,0.001,124,0],
 ro:[79,0,82,0.025,84.5,0.05,86,0.0545,89,0.048,93,0.038,97,0.031,102,0.024,107,0.017,112,0.011,117,0.007,122,0.003,128,0],
 rd:[80,0,83,0.03,87,0.045,92,0.04,98,0.03,104,0.02,110,0.011,117,0.005,124,0.001,128,0],
 ks:[80,0,83,0.004,88,0.012,93,0.018,98,0.024,104,0.032,110,0.035,115,0.034,119,0.029,123,0.022,126,0.01,128,0.002,130,0],
 ko:[80,0,83,0.02,87,0.025,100,0.026,112,0.026,120,0.025,125,0.022,127,0.008,129,0]};
const c70 = {
 kd:[45.8,0,54,0,56,0.0065,248,0.0065,255,0.003,261,0,266,0],
 rs:[62,0,64,0.04,66,0.12,68,0.152,70,0.1,73,0.05,77,0.02,82,0.006,90,0.001,100,0,266,0],
 rd:[62,0,65,0.06,68,0.1,71,0.08,75,0.045,80,0.018,88,0.005,98,0],
 ro:[62,0,65,0.05,68,0.085,72,0.06,77,0.03,84,0.01,95,0],
 ks:[60,0,63,0.01,67,0.035,71,0.041,76,0.036,82,0.027,90,0.017,100,0.01,110,0.006,125,0.002,140,0],
 cs:[60,0,65,0.012,72,0.024,80,0.026,90,0.023,100,0.018,110,0.013,125,0.007,140,0.003,160,0],
 co:[60,0,70,0.012,85,0.02,100,0.021,115,0.018,135,0.012,155,0.006,175,0.002,190,0],
 ko:[60,0,67,0.02,75,0.028,85,0.026,100,0.02,115,0.014,130,0.009,150,0.004,170,0.001,185,0]};
const c76 = {
 kd:[67.6,0,80,0,82,0.008,248,0.008,252,0.003,256,0,267.3,0],
 rs:[80,0,82.5,0.06,85,0.22,86.5,0.278,88,0.2,90.5,0.09,94,0.03,99,0.008,106,0,267.3,0],
 rd:[81,0,84,0.1,87,0.2,89,0.21,92,0.15,96,0.08,101,0.03,108,0.008,118,0],
 ro:[81,0,84,0.08,87,0.18,90,0.15,94,0.08,100,0.025,108,0.005,118,0],
 ks:[80,0,84,0.03,87,0.08,89,0.095,92,0.07,96,0.04,101,0.018,108,0.006,118,0],
 cs:[80,0,88,0.02,98,0.015,110,0.018,125,0.02,140,0.018,155,0.01,170,0.004,185,0],
 co:[80,0,90,0.012,105,0.016,125,0.017,145,0.014,165,0.008,180,0.003,195,0],
 ko:[80,0,86,0.04,92,0.035,100,0.025,115,0.016,135,0.01,155,0.005,175,0.002,190,0]};
const c77 = {
 kd:[92.9,0,106,0,108,0.0075,245,0.0075,246.5,0.003,248,0,267.5,0],
 rs:[104,0,105.5,0.04,107,0.068,109,0.06,112,0.045,116,0.03,121,0.018,127,0.008,133,0.003,142,0,267.5,0],
 rd:[104,0,107,0.03,110,0.06,112,0.066,116,0.055,121,0.04,126,0.025,132,0.012,140,0.004,150,0,267.5,0],
 ro:[104,0,108,0.04,111,0.063,115,0.058,120,0.045,126,0.028,132,0.014,140,0.005,150,0],
 ks:[101,0,104,0.003,108,0.008,115,0.011,125,0.015,135,0.019,145,0.0215,151,0.022,156,0.019,162,0.014,168,0.009,174,0.005,180,0.002,188,0],
 cs:[101,0,105,0.004,110,0.008,120,0.0085,130,0.009,140,0.01,150,0.011,160,0.0125,168,0.017,176,0.021,184,0.022,190,0.016,195,0.009,200,0.003,206,0],
 co:[101,0,108,0.008,120,0.011,140,0.012,160,0.0125,180,0.0125,195,0.0105,210,0.006,222,0.003,235,0],
 ko:[101,0,106,0.01,112,0.015,120,0.0155,135,0.0155,150,0.014,165,0.012,180,0.009,195,0.006,210,0.003,225,0.001,240,0]};
const c78 = {
 kd:[92,0,108,0,110,0.0078,245,0.0078,246.5,0.003,248,0,266.5,0],
 rd:[106,0,109,0.03,112,0.06,114,0.062,118,0.048,123,0.032,128,0.018,134,0.008,142,0.002,150,0,266.5,0],
 ro:[107,0,111,0.04,114,0.06,117,0.062,122,0.05,127,0.036,133,0.022,140,0.01,148,0.003,158,0],
 rs:[107,0,111,0.008,115,0.022,120,0.029,126,0.027,132,0.021,138,0.016,145,0.01,152,0.006,160,0.003,170,0.001,180,0],
 ks:[112,0,120,0.002,128,0.005,136,0.008,145,0.013,152,0.017,160,0.021,167,0.0235,172,0.0235,180,0.02,188,0.012,195,0.007,202,0.004,210,0.001,215,0],
 cs:[150,0,160,0.002,168,0.006,176,0.012,183,0.018,190,0.025,196,0.031,201,0.029,206,0.022,211,0.012,216,0.005,222,0],
 co:[150,0,165,0.002,180,0.007,192,0.012,202,0.018,210,0.021,216,0.0212,222,0.018,228,0.01,234,0.004,240,0],
 ko:[108,0,115,0.005,130,0.008,150,0.01,170,0.012,190,0.0135,200,0.013,210,0.009,220,0.004,230,0]};
const c84 = {
 kd:[67.5,0,85,0,87,0.0066,243,0.0066,245,0.002,247,0,267.8,0],
 rs:[80,0,83,0.05,85.4,0.091,88,0.075,91,0.05,95,0.03,100,0.016,106,0.007,113,0.003,120,0.001,130,0,267.8,0],
 rd:[81,0,84,0.05,87,0.08,91,0.06,96,0.035,102,0.015,110,0.005,120,0],
 ro:[81,0,84,0.045,87,0.075,91,0.055,97,0.03,104,0.012,114,0.003,125,0],
 ks:[80,0,84,0.006,90,0.013,97,0.0152,110,0.015,125,0.0135,140,0.012,155,0.01,170,0.008,185,0.006,200,0.004,212,0.002,222,0],
 cs:[80,0,85,0.007,92,0.012,100,0.0135,115,0.0135,130,0.012,150,0.01,170,0.008,190,0.006,205,0.004,215,0.002,225,0],
 co:[82,0,88,0.005,100,0.008,130,0.008,160,0.0075,190,0.007,210,0.006,225,0.003,235,0],
 ko:[82,0,88,0.006,100,0.008,130,0.0082,160,0.008,190,0.007,215,0.006,235,0.004,245,0.002,255,0]};
const c86 = {
 kd:[92.9,0,106,0,108,0.0078,245,0.0078,246.5,0.003,248,0,267.5,0],
 rs:[104,0,106,0.04,108,0.081,110,0.065,113,0.045,117,0.03,121,0.018,126,0.01,133,0.004,142,0.0015,155,0,267.5,0],
 rd:[104,0,107,0.035,110,0.065,112,0.068,116,0.05,121,0.032,127,0.017,134,0.007,145,0.002,155,0],
 ro:[104,0,108,0.035,111,0.06,115,0.05,120,0.033,127,0.016,136,0.005,148,0],
 ks:[101,0,104,0.006,108,0.018,113,0.022,118,0.022,124,0.019,132,0.016,140,0.0145,150,0.012,160,0.0093,170,0.0065,182,0.0042,195,0.0022,210,0.0008,225,0],
 cs:[101,0,104,0.005,108,0.015,113,0.018,120,0.0185,128,0.017,138,0.0145,150,0.012,160,0.0095,170,0.007,182,0.0045,195,0.0025,212,0.001,230,0],
 co:[101,0,106,0.01,112,0.016,120,0.0165,130,0.015,145,0.012,160,0.009,175,0.006,190,0.004,205,0.0025,220,0.0012,240,0],
 ko:[101,0,106,0.012,112,0.0175,120,0.018,130,0.0165,145,0.013,160,0.0095,175,0.0065,190,0.004,205,0.0025,220,0.0012,240,0.0004,250,0]};
const c88 = {
 kd:[92,0,110,0,112,0.0083,245,0.0083,246.5,0.003,248,0,266.5,0],
 rs:[106,0,108.5,0.05,111.5,0.1,114,0.08,117,0.055,121,0.035,126,0.02,132,0.009,140,0.003,150,0.001,160,0,266.5,0],
 rd:[107,0,110,0.05,113,0.08,116,0.068,120,0.045,126,0.024,133,0.01,143,0.003,155,0],
 ro:[107,0,110,0.045,113.5,0.072,117,0.06,122,0.04,128,0.02,136,0.007,147,0.002,160,0],
 ks:[106,0,110,0.012,114,0.03,118,0.0358,123,0.033,129,0.027,135,0.022,142,0.018,150,0.014,160,0.01,170,0.0074,182,0.0045,193,0.0022,205,0.0008,218,0],
 cs:[106,0,110,0.012,114,0.028,117,0.031,122,0.028,128,0.022,135,0.017,145,0.012,155,0.008,168,0.005,182,0.003,198,0.001,215,0],
 co:[106,0,111,0.009,117,0.014,125,0.0135,135,0.012,150,0.009,165,0.007,185,0.0045,205,0.0025,225,0.001,245,0],
 ko:[106,0,111,0.01,117,0.0145,125,0.014,135,0.012,150,0.0095,165,0.007,185,0.0045,205,0.0028,225,0.0012,250,0]};
const c89 = {
 kd:[295,0,307.5,0,309,0.0174,376.5,0.0174,377.5,0.005,378.5,0,400,0],
 co:[304,0,306,0.025,308,0.06,309.5,0.071,312,0.065,316,0.05,320,0.039,325,0.028,331,0.0175,338,0.014,346,0.011,353,0.007,360,0.0037,366,0.001,370,0],
 ko:[304,0,306,0.025,308,0.058,309.5,0.066,312,0.062,316,0.05,320,0.042,326,0.032,332,0.023,340,0.015,348,0.009,355,0.005,362,0.002,370,0],
 ks:[304,0,306,0.02,308,0.045,310,0.054,314,0.051,320,0.044,326,0.034,331,0.025,336,0.019,341,0.015,346,0.011,352,0.0078,358,0.0045,364,0.002,372,0],
 rs:[304,0,306,0.02,308,0.044,310,0.053,314,0.05,320,0.043,326,0.033,331,0.025,336,0.019,341,0.014,346,0.01,352,0.007,358,0.004,364,0.0015,372,0],
 ro:[305,0,307,0.03,309,0.05,311,0.052,315,0.048,320,0.042,326,0.033,332,0.024,338,0.016,345,0.01,352,0.006,360,0.003,368,0],
 rd:[305,0,308,0.035,311,0.048,316,0.044,324,0.034,332,0.023,340,0.014,350,0.007,360,0.002,368,0],
 cs:[304,0,308,0.006,312,0.015,317,0.023,322,0.029,327,0.033,332,0.0355,337,0.032,343,0.025,348,0.018,354,0.012,360,0.0083,367,0.0045,374,0.002,381,0]};
const c90 = {
 kd:[120.8,0,146,0,148,0.006,312,0.006,314,0.002,316,0,361,0],
 ks:[215,0,235,0.0008,250,0.0022,262,0.005,272,0.01,282,0.018,290,0.026,298,0.0305,303,0.029,308,0.022,312,0.012,316,0.004,320,0],
 rs:[220,0,240,0.001,255,0.003,268,0.007,278,0.013,288,0.021,296,0.027,302,0.0283,306,0.026,310,0.018,314,0.007,318,0.001,321,0],
 cs:[225,0,245,0.0015,260,0.004,272,0.009,282,0.016,292,0.024,300,0.028,305,0.0296,309,0.025,313,0.013,317,0.003,321,0],
 co:[150,0,180,0.001,210,0.0028,235,0.005,257,0.008,272,0.011,285,0.0145,297,0.0175,305,0.0188,310,0.015,314,0.006,318,0.001,321,0],
 ko:[150,0,180,0.0015,210,0.0035,240,0.006,265,0.009,285,0.012,299,0.013,306,0.012,311,0.007,315,0.002,319,0],
 ro:[145,0,160,0.001,190,0.003,220,0.005,250,0.0068,275,0.0082,295,0.0092,303,0.0088,309,0.006,314,0.002,318,0],
 rd:[150,0,190,0.002,230,0.0045,265,0.007,290,0.009,303,0.009,310,0.005,316,0]};
const c92 = {
 kd:[101.7,0,123.5,0,125,0.0054,306.5,0.0054,307.5,0.002,308.5,0,356.9,0],
 ro:[109,0,113,0.006,118,0.012,125,0.0155,131,0.0165,138,0.0155,148,0.0135,160,0.0115,173,0.0095,188,0.0073,202,0.0055,216,0.0044,230,0.003,243,0.0023,258,0.001,272,0],
 rs:[110,0,114,0.006,118,0.013,124,0.015,132,0.0155,140,0.016,146,0.0158,152,0.015,160,0.013,168,0.0115,178,0.009,188,0.0073,198,0.006,208,0.0044,218,0.003,226,0.0022,240,0.001,255,0],
 cs:[110,0,114,0.007,118,0.013,126,0.0145,133,0.0148,141,0.0145,150,0.0145,157,0.015,161,0.0155,167,0.0135,175,0.0115,185,0.009,195,0.0065,205,0.0045,215,0.003,228,0.0015,242,0],
 ks:[110,0,114,0.007,118,0.0125,125,0.0137,132,0.0135,140,0.0128,148,0.0128,155,0.0133,160,0.0136,167,0.0128,175,0.0108,182,0.0092,190,0.0072,197,0.0058,203,0.0045,210,0.0026,217,0.001,225,0],
 ko:[110,0,114,0.007,118,0.012,125,0.0135,135,0.013,150,0.0115,165,0.01,180,0.0085,195,0.0065,210,0.0048,225,0.0032,240,0.0018,255,0.0008,270,0],
 co:[110,0,115,0.004,122,0.0085,132,0.0095,145,0.0098,158,0.0092,170,0.0085,185,0.0075,200,0.0063,220,0.005,240,0.0037,260,0.0025,280,0.0013,297,0.0005,310,0],
 rd:[111,0,116,0.008,122,0.014,130,0.016,140,0.015,155,0.013,170,0.011,185,0.0085,200,0.006,220,0.0035,240,0.0015,258,0]};
const c94 = {
 kd:[241.1,0,264.5,0,266,0.0103,364,0.0103,365,0.004,366,0,405.8,0],
 cs:[272,0,280,0.001,286,0.004,291,0.011,295,0.021,299,0.032,303,0.039,306,0.036,310,0.029,315,0.022,320,0.015,325,0.009,330,0.005,336,0.002,344,0],
 co:[268,0,276,0.003,284,0.009,292,0.017,299,0.025,305,0.0305,310,0.028,316,0.022,322,0.015,328,0.009,335,0.004,343,0.0012,350,0],
 rs:[260,0,263,0.006,267,0.015,272,0.019,280,0.021,287,0.024,293,0.027,297,0.025,302,0.019,308,0.0145,314,0.0105,320,0.007,327,0.004,334,0.0018,342,0],
 ks:[260,0,263,0.007,267,0.016,272,0.02,280,0.0228,288,0.0238,294,0.024,298,0.022,302,0.019,308,0.0145,314,0.0105,320,0.007,327,0.004,334,0.002,343,0],
 ro:[261,0,265,0.01,270,0.018,280,0.0185,290,0.0185,296,0.018,302,0.0145,310,0.01,318,0.006,326,0.0035,335,0.0015,345,0],
 ko:[261,0,265,0.01,270,0.018,280,0.019,290,0.019,296,0.0185,302,0.015,310,0.0105,318,0.0065,326,0.0038,335,0.0018,345,0.0005,352,0],
 rd:[262,0,267,0.012,274,0.018,288,0.019,298,0.017,308,0.011,320,0.005,332,0.002,342,0]};

const PANELS_A = [a49,a50,a57,a65,a70,a76,a77,a78,a84,a86,a88,a89,a90,a92,a94];
const PANELS_B = [b49,b50,b57,b65,b70,b76,b77,b78,b84,b86,b88,b89,b90,b92,b94];
const PANELS_C = [c49,c50,c57,c65,c70,c76,c77,c78,c84,c86,c88,c89,c90,c92,c94];

// ---------- layout & style ----------
const COL_LEFT = [41,183,325,488,630,773,927,1069,1212];
const ROW_TOP = [27,125,223,322,420];
const BW = 122, BH = 84, PL = 26, PR = 4, PT = 3, PB = 14;
const FONT = '"Liberation Sans", Arial, sans-serif';
const RED = '#ff0000', CYAN = '#1cc8c8', BLK = '#000000';
const LW = 1.8;
const STYLE = {
  ks:{c:BLK,d:[]}, rs:{c:RED,d:[]}, cs:{c:CYAN,d:[]},
  kd:{c:'#1a1a1a',d:[5.5,3]}, ko:{c:BLK,d:[1.6,1.8]},
  ro:{c:RED,d:[1.6,1.8]}, rd:{c:RED,d:[4.5,2.5]}, co:{c:CYAN,d:[1.6,1.8]}
};
const ORDER = ['ks','rs','cs','kd','ko','ro','rd','co'];
const GROUPS = [
  {panels:PANELS_A, xr:X_RANGE_A, top:Y_TOP_A, step:Y_STEP_A},
  {panels:PANELS_B, xr:X_RANGE_B, top:Y_TOP_B, step:Y_STEP_B},
  {panels:PANELS_C, xr:X_RANGE_C, top:Y_TOP_C, step:Y_STEP_C}
];

function pts(flat){const r=[];for(let i=0;i<flat.length;i+=2)r.push({x:flat[i],y:flat[i+1]});return r;}

GROUPS.forEach((g,gi)=>{
  NODES.forEach((node,ni)=>{
    const col = gi*3 + (ni%3), row = Math.floor(ni/3);
    const bx = COL_LEFT[col], by = ROW_TOP[row];
    const cv = document.createElement('canvas');
    const W = PL+BW+PR, H = PT+BH+PB;
    cv.width = W; cv.height = H;
    cv.style.left = (bx-PL)+'px'; cv.style.top = (by-PT)+'px';
    cv.style.width = W+'px'; cv.style.height = H+'px';
    document.body.appendChild(cv);
    const p = g.panels[ni];
    const top = g.top[ni], step = g.step[ni];
    const dec = step < 0.01 ? 3 : 2;
    const yt = [];
    for(let i=0; i*step <= top+1e-9; i++) yt.push(Math.round(i*step*10000)/10000);
    const xt = X_TICKS[ni];
    const datasets = ORDER.filter(k=>p[k]).map(k=>({
      data: pts(p[k]), borderColor: STYLE[k].c, borderDash: STYLE[k].d, borderWidth: LW,
      pointRadius: 0, fill: false,
      cubicInterpolationMode: k==='kd' ? 'default' : 'monotone', tension: 0
    }));
    const tickFont = {size:4.6, family:FONT};
    new Chart(cv, {
      type:'line',
      data:{datasets},
      options:{
        responsive:false, animation:false, devicePixelRatio:1, events:[],
        layout:{padding:{left:0,right:PR,top:PT,bottom:0}},
        plugins:{legend:{display:false}, tooltip:{enabled:false}},
        scales:{
          x:{type:'linear', bounds:'data', min:g.xr[ni][0], max:g.xr[ni][1],
             afterBuildTicks:s=>{s.ticks = xt.map(v=>({value:v}));},
             afterFit:s=>{s.height=PB; s.paddingLeft=0; s.paddingRight=0;},
             ticks:{autoSkip:false, maxRotation:0, minRotation:0, padding:3.5, color:'#222', font:tickFont, callback:v=>String(v)},
             grid:{drawOnChartArea:false, drawTicks:true, tickLength:2.5, color:'#333', lineWidth:0.7},
             border:{display:false}},
          y:{type:'linear', bounds:'data', min:-top*0.0385, max:top,
             afterBuildTicks:s=>{s.ticks = yt.map(v=>({value:v}));},
             afterFit:s=>{s.width=PL; s.paddingTop=0; s.paddingBottom=0;},
             ticks:{autoSkip:false, padding:3, color:'#222', font:tickFont, callback:v=>Number(v).toFixed(dec)},
             grid:{drawOnChartArea:false, drawTicks:true, tickLength:2.5, color:'#333', lineWidth:0.7},
             border:{display:false}}
        }
      },
      plugins:[{
        id:'frame',
        beforeDatasetsDraw(c){
          const a=c.chartArea, ctx=c.ctx, y0=c.scales.y.getPixelForValue(0);
          ctx.save(); ctx.strokeStyle='#c8c8c8'; ctx.lineWidth=1;
          ctx.beginPath(); ctx.moveTo(a.left,y0); ctx.lineTo(a.right,y0); ctx.stroke(); ctx.restore();
        },
        afterDraw(c){
          const a=c.chartArea, ctx=c.ctx;
          ctx.save();
          ctx.strokeStyle='#8a8a8a'; ctx.lineWidth=1.8;
          ctx.strokeRect(a.left,a.top,a.right-a.left,a.bottom-a.top);
          ctx.fillStyle='#111'; ctx.font='bold 7.5px '+FONT;
          ctx.textAlign='right'; ctx.textBaseline='alphabetic';
          ctx.fillText('node '+node, a.right-1.5, a.top+6.8);
          ctx.restore();
        }
      }]
    });
  });
});
</script>
</body></html>
